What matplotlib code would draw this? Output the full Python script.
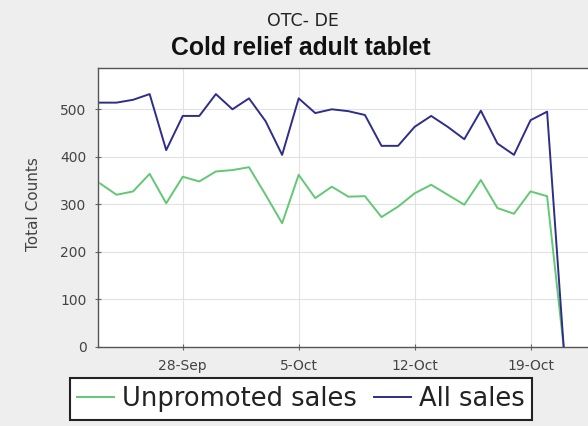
import matplotlib
matplotlib.use("Agg")
import matplotlib.pyplot as plt
import matplotlib.dates as mdates
import pandas as pd

# ---- data ----
dates = pd.date_range("2009-09-23", "2009-10-21", freq="D")
all_sales = [514, 514, 520, 532, 414, 486, 486, 532, 500, 523,
             475, 404, 523, 492, 500, 496, 488, 423, 423, 463,
             486, 463, 437, 497, 428, 404, 477, 495, 0]
unpromoted_sales = [344, 320, 327, 364, 302, 358, 348, 369, 372, 378,
                    320, 260, 362, 313, 337, 316, 317, 273, 295, 323,
                    341, 320, 299, 351, 292, 280, 327, 317, 0]
series_labels = ["Unpromoted sales", "All sales"]
tick_dates = ["2009-09-28", "2009-10-05", "2009-10-12", "2009-10-19"]
y_ticks = [0, 100, 200, 300, 400, 500]
title_top = "OTC- DE"
title_main = "Cold relief adult tablet"
y_label = "Total Counts"

W, H = 588, 426
fig = plt.figure(figsize=(W / 100, H / 100), dpi=100, facecolor="#eeeeee")
ax = fig.add_axes([98.3 / W, 1 - 346.7 / H, 1 - 98.3 / W, (346.7 - 67.5) / H])
ax.set_facecolor("white")

green = "#62c873"
navy = "#2e2e8a"
ax.plot(dates, unpromoted_sales, color=green, lw=1.4, label=series_labels[0], zorder=3)
ax.plot(dates, all_sales, color=navy, lw=1.4, label=series_labels[1], zorder=4)

ax.set_ylim(0, 588)
ax.set_xlim(mdates.date2num(pd.Timestamp("2009-09-23")) - 0.1,
            mdates.date2num(pd.Timestamp("2009-10-22")) + 0.47)
ax.set_yticks(y_ticks)
ax.set_xticks([pd.Timestamp(d) for d in tick_dates])
ax.xaxis.set_major_formatter(mdates.DateFormatter("%-d-%b"))

ax.grid(True, color="#e2e2e2", lw=0.8)
ax.set_axisbelow(True)
for s in ["left", "bottom", "top"]:
    ax.spines[s].set_color("#555555")
    ax.spines[s].set_linewidth(1.0)
ax.spines["right"].set_visible(False)
ax.tick_params(axis="both", direction="inout", length=5, width=0.8, color="#666666",
               labelsize=10, labelcolor="#444444")
ax.tick_params(axis="x", pad=6)
ax.tick_params(axis="y", pad=6)

fig.text(34 / W, 1 - 204 / H, y_label, rotation=90, ha="center", va="center",
         fontsize=11, color="#444444")

fig.text(303 / W, 1 - 25.5 / H, title_top, ha="center", va="baseline",
         fontsize=12.5, color="#222222")
fig.text(301 / W, 1 - 55 / H, title_main, ha="center", va="baseline",
         fontsize=17.8, fontweight="bold", family="Liberation Sans", color="#111111")

leg = fig.legend(loc="center", bbox_to_anchor=(300.9 / W, 1 - 399 / H), ncol=2,
                 fontsize=18.5, frameon=True, fancybox=False, framealpha=1,
                 handlelength=1.43, handletextpad=0.31, columnspacing=0.66,
                 borderpad=0.3, borderaxespad=0)
leg.get_frame().set_edgecolor("#222222")
leg.get_frame().set_linewidth(1.5)
for t in leg.get_texts():
    t.set_color("#222222")

fig.savefig("out.png", dpi=100, facecolor=fig.get_facecolor())
